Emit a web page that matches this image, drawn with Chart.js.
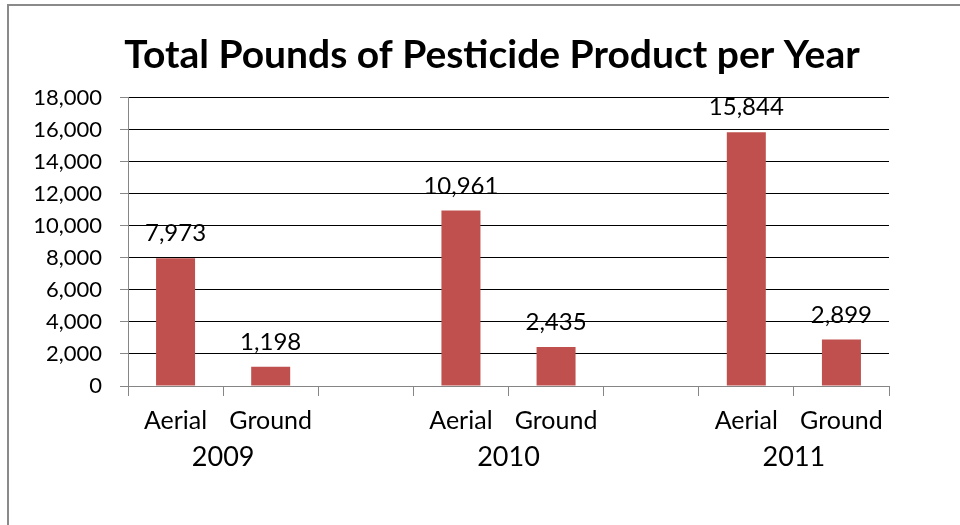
<!DOCTYPE html>
<html>
<head>
<meta charset="utf-8">
<script src="https://cdn.jsdelivr.net/npm/chart.js@4/dist/chart.umd.min.js"></script>
<style>
  html, body { margin: 0; padding: 0; background: #fff; }
  #wrap { position: relative; width: 960px; height: 525px; overflow: hidden; }
  #frame { position: absolute; left: 7px; top: 4px; width: 960px; height: 530px;
           border-top: 2px solid #8a8a8a; border-left: 2px solid #8a8a8a; box-sizing: border-box; pointer-events: none; }
  canvas { position: absolute; left: 0; top: 0; }
</style>
</head>
<body>
<div id="wrap">
  <canvas id="c" width="960" height="525"></canvas>
  <div id="frame"></div>
</div>
<script>
// ---- data ----
const categories = ['Aerial', 'Ground', '', 'Aerial', 'Ground', '', 'Aerial', 'Ground'];
const pounds = [7973, 1198, null, 10961, 2435, null, 15844, 2899];
const years = ['2009', '2010', '2011'];
const yearCategoryCenters = [0.5, 3.5, 6.5]; // midpoint between Aerial and Ground of each year (category index units)
const yMin = 0, yMax = 18000, yStep = 2000;
const chartTitle = 'Total Pounds of Pesticide Product per Year';

const barColor = '#C0504D';
const axisGray = '#868686';

const valueLabels = {
  id: 'valueLabels',
  afterDatasetsDraw(chart) {
    const ctx = chart.ctx;
    const meta = chart.getDatasetMeta(0);
    const data = chart.data.datasets[0].data;
    ctx.save();
    ctx.font = '24px Lato';
    ctx.fillStyle = '#000';
    ctx.textAlign = 'center';
    ctx.textBaseline = 'alphabetic';
    meta.data.forEach((bar, i) => {
      const v = data[i];
      if (v == null) return;
      ctx.fillText(v.toLocaleString('en-US'), bar.x, bar.y - 17);
    });
    ctx.restore();
  }
};

function draw() {
  new Chart(document.getElementById('c'), {
    type: 'bar',
    data: {
      labels: categories,
      datasets: [{
        data: pounds,
        backgroundColor: barColor,
        borderWidth: 0,
        categoryPercentage: 1,
        barPercentage: 0.41,
        xAxisID: 'x',
        yAxisID: 'y'
      }]
    },
    options: {
      responsive: false,
      devicePixelRatio: 1,
      animation: false,
      layout: { padding: { left: 24, right: 0, top: 28, bottom: 43 } },
      plugins: {
        legend: { display: false },
        tooltip: { enabled: false },
        title: {
          display: true,
          text: chartTitle,
          color: '#000',
          font: { family: 'Lato', size: 39, weight: 'bold', lineHeight: 1.2 },
          padding: { top: 4, bottom: 19 }
        }
      },
      scales: {
        x: {
          type: 'category',
          position: 'bottom',
          weight: 0,
          offset: true,
          grid: { display: true, offset: true, drawOnChartArea: false, drawTicks: true, tickLength: 10, color: axisGray, tickColor: axisGray },
          border: { display: true, color: axisGray, width: 1 },
          ticks: { color: '#000', font: { family: 'Lato', size: 25 }, padding: 10, autoSkip: false, maxRotation: 0 },
          afterFit(s) { s.height = 46; }
        },
        x2: {
          type: 'linear',
          position: 'bottom',
          weight: 1,
          offset: false,
          min: -0.5,
          max: categories.length - 0.5,
          grid: { display: false, offset: false },
          border: { display: false },
          afterBuildTicks(s) { s.ticks = yearCategoryCenters.map(v => ({ value: v })); },
          ticks: {
            color: '#000', font: { family: 'Lato', size: 27 }, padding: 1, autoSkip: false, maxRotation: 0,
            callback(v) { const i = yearCategoryCenters.indexOf(v); return i >= 0 ? years[i] : ''; }
          },
          afterFit(s) { s.height = 50; }
        },
        y: {
          position: 'left',
          min: yMin,
          max: yMax,
          grid: {
            color: c => (c.tick && c.tick.value === 0) ? axisGray : '#000',
            tickColor: axisGray,
            tickLength: 8,
            lineWidth: 1
          },
          border: { display: true, color: axisGray, width: 1 },
          ticks: {
            stepSize: yStep, color: '#000', font: { family: 'Lato', size: 22 }, padding: 18,
            callback: v => Number(v).toLocaleString('en-US')
          },
          afterFit(s) { s.width = 104; }
        },
        yRight: {
          position: 'right',
          display: true,
          grid: { display: false },
          border: { display: false },
          ticks: { display: false },
          afterFit(s) { s.width = 71; }
        }
      }
    },
    plugins: [valueLabels]
  });
}

const fontLoads = ['bold 39px Lato', '24px Lato', '25px Lato', '27px Lato', '22px Lato'].map(f => document.fonts.load(f));
Promise.all(fontLoads).then(draw, draw);
</script>
</body>
</html>
